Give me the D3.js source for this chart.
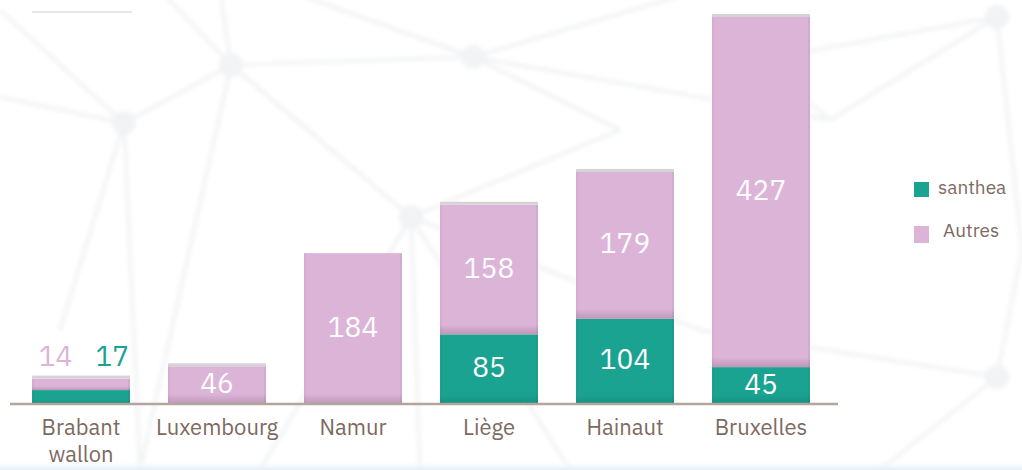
<!DOCTYPE html>
<html><head><meta charset="utf-8">
<script src="https://cdn.jsdelivr.net/npm/d3@7"></script>
<style>
html,body{margin:0;padding:0;background:#fff;}
svg{display:block;}
</style></head>
<body>
<svg id="chart" width="1022" height="470"></svg>
<script>
const categories = ["Brabant wallon","Luxembourg","Namur","Liège","Hainaut","Bruxelles"];
const santhea = [17, 0, 0, 85, 104, 45];
const autres = [14, 46, 184, 158, 179, 427];
const seriesNames = ["santhea","Autres"];
const colors = ["#1ba392","#dcb4d8"];

const svg = d3.select("#chart");
const W = 1022, H = 470;
const font = "'IBM Plex Sans','Roboto','Noto Sans',sans-serif";
const textColor = "#7c6a60";

// background decoration (faint network)
const defs = svg.append("defs");
const blur = defs.append("filter").attr("id","blur").attr("x","-50%").attr("y","-50%").attr("width","200%").attr("height","200%");
blur.append("feGaussianBlur").attr("stdDeviation",2);
const nodes = [[231,65],[124,123],[473,57],[411,217],[997,17],[997,377],[-10,95],[160,-10],[220,-10],[0,10],[300,-5],[700,-10],[620,130],[830,120],[700,330],[570,470],[140,470],[60,330],[260,470],[880,470],[1022,250],[760,60],[420,470]];
const edges = [[0,1],[0,2],[0,3],[0,7],[0,8],[1,6],[1,9],[1,16],[1,17],[2,10],[2,11],[2,12],[2,13],[3,0],[3,14],[3,15],[3,18],[4,13],[4,20],[5,19],[5,20],[5,14],[12,3],[13,21],[21,4],[3,22],[0,16]];
const bg = svg.append("g").attr("filter","url(#blur)");
edges.forEach(([a,b])=>{
  bg.append("line").attr("x1",nodes[a][0]).attr("y1",nodes[a][1]).attr("x2",nodes[b][0]).attr("y2",nodes[b][1])
    .attr("stroke","#f1f2f4").attr("stroke-width",3.5);
});
[0,1,2,3,4,5].forEach(i=>{
  bg.append("circle").attr("cx",nodes[i][0]).attr("cy",nodes[i][1]).attr("r",12).attr("fill","#f2f3f5");
});
svg.append("line").attr("x1",32).attr("x2",132).attr("y1",12).attr("y2",12).attr("stroke","#e6e6e8").attr("stroke-width",2);
const bottomGrad = defs.append("linearGradient").attr("id","bottomGrad").attr("x1",0).attr("x2",0).attr("y1",0).attr("y2",1);
bottomGrad.append("stop").attr("offset","0%").attr("stop-color","#ffffff").attr("stop-opacity",0);
bottomGrad.append("stop").attr("offset","100%").attr("stop-color","#e3eef5");
svg.append("rect").attr("x",0).attr("y",460).attr("width",W).attr("height",10).attr("fill","url(#bottomGrad)");

const x = d3.scaleBand().domain(categories).range([13, 829]).paddingInner(0.28).paddingOuter(0.14);
const totals = categories.map((c,i)=>santhea[i]+autres[i]);
const y = d3.scaleLinear().domain([0, d3.max(totals)]).range([404, 17]);

const table = categories.map((c,i)=>({cat:c, santhea:santhea[i], Autres:autres[i]}));
const stack = d3.stack().keys(seriesNames)(table);

const gBars = svg.append("g");
stack.forEach((layer, si)=>{
  layer.forEach((d, i)=>{
    const v = d[1]-d[0];
    if (v <= 0) return;
    const x0 = x(categories[i]), bw = x.bandwidth();
    const y0 = y(d[1]), h = y(d[0]) - y(d[1]);
    gBars.append("rect").attr("x",x0).attr("y",y0).attr("width",bw).attr("height",h).attr("fill",colors[si]);
    const band = Math.min(10, h*0.35);
    const gid = "g"+si+"_"+i;
    const dark = si===0?"#0f7e70":"#a07c98";
    const gg = defs.append("linearGradient").attr("id",gid).attr("x1",0).attr("x2",0).attr("y1",0).attr("y2",1);
    gg.append("stop").attr("offset","0%").attr("stop-color",dark).attr("stop-opacity",0);
    gg.append("stop").attr("offset","100%").attr("stop-color",dark).attr("stop-opacity",0.5);
    gBars.append("rect").attr("x",x0).attr("y",y0+h-band).attr("width",bw).attr("height",band).attr("fill","url(#"+gid+")");
    gBars.append("rect").attr("x",x0).attr("y",y0).attr("width",2).attr("height",h).attr("fill","#000").attr("opacity",0.04);
    gBars.append("rect").attr("x",x0+bw-2).attr("y",y0).attr("width",2).attr("height",h).attr("fill","#000").attr("opacity",0.05);
  });
});
categories.forEach((c,i)=>{
  if (c === "Namur") return;
  gBars.append("rect").attr("x",x(c)).attr("y",y(totals[i])-3).attr("width",x.bandwidth()).attr("height",3)
    .attr("fill","#d6d3d6");
});

// value labels
const gLab = svg.append("g").attr("font-family",font).attr("font-size",28).attr("text-anchor","middle");
stack.forEach((layer, si)=>{
  layer.forEach((d,i)=>{
    const v = d[1]-d[0];
    if (v <= 0) return;
    if (categories[i] === "Brabant wallon") return;
    const cx = x(categories[i]) + x.bandwidth()/2;
    const cy = (y(d[0])+y(d[1]))/2 - 2;
    gLab.append("text").attr("x",cx).attr("y",cy).attr("dy","0.36em").attr("fill","#ffffff").text(v);
  });
});
{
  const i = 0, c = categories[0];
  const bx = x(c), bw = x.bandwidth();
  gLab.append("text").attr("x",bx+bw*0.24).attr("y",y(totals[i])-13).attr("fill",colors[1]).text(autres[i]);
  gLab.append("text").attr("x",bx+bw*0.82).attr("y",y(totals[i])-13).attr("fill",colors[0]).text(santhea[i]);
}

// axis
const axisG = svg.append("g").attr("transform","translate(0,404)");
axisG.call(d3.axisBottom(x).tickSize(0).tickFormat(""));
axisG.select(".domain").remove();
axisG.append("line").attr("x1",10).attr("x2",838).attr("y1",0).attr("y2",0).attr("stroke","#b3a49d").attr("stroke-width",2.5);
axisG.selectAll(".tick text").remove();
axisG.selectAll(".tick").each(function(d){
  const lines = d === "Brabant wallon" ? d.split(" ") : [d];
  lines.forEach((ln, k)=>{
    d3.select(this).append("text").attr("fill",textColor).attr("font-family",font).attr("font-size",22)
      .attr("text-anchor","middle").attr("y",31 + k*27).text(ln);
  });
});

// legend
const leg = svg.append("g").attr("font-family",font).attr("font-size",19).attr("fill",textColor);
seriesNames.forEach((s,i)=>{
  const ly = 182 + i*43;
  leg.append("rect").attr("x",914).attr("y",ly + (i?1:0)).attr("width",15).attr("height",i?17:15).attr("fill",colors[i]);
  leg.append("text").attr("x",i?943:938).attr("y",ly+5).attr("dy","0.35em").text(s);
});
</script>
</body></html>
